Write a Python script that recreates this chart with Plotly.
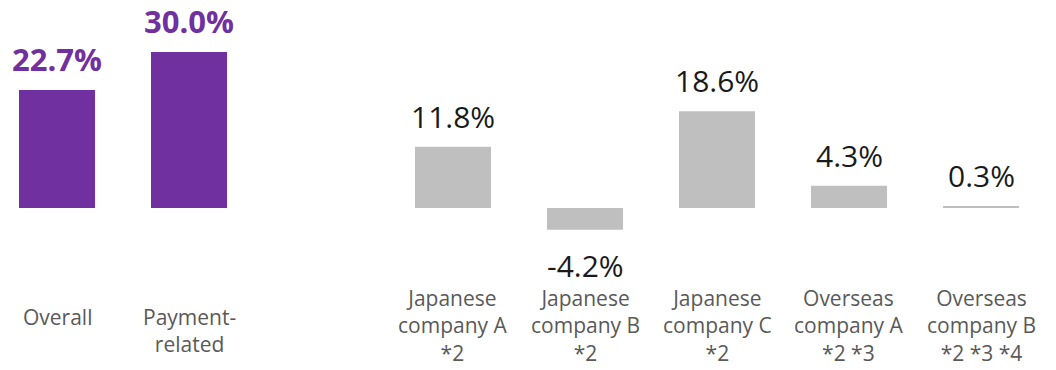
import plotly.graph_objects as go

# Data
categories = ["Overall", "Payment-<br>related",
              "Japanese<br>company A<br>*2", "Japanese<br>company B<br>*2",
              "Japanese<br>company C<br>*2", "Overseas<br>company A<br>*2 *3",
              "Overseas<br>company B<br>*2 *3 *4"]
positions = [0, 1, 3, 4, 5, 6, 7]
values = [22.7, 30.0, 11.8, -4.2, 18.6, 4.3, 0.3]
labels = ["22.7%", "30.0%", "11.8%", "-4.2%", "18.6%", "4.3%", "0.3%"]
highlight = [True, True, False, False, False, False, False]

PURPLE = "#7030A0"
GRAY = "#BFBFBF"
FONT = "Open Sans"

fig = go.Figure()
fig.add_trace(go.Bar(
    x=positions, y=values, width=0.576,
    marker=dict(color=[PURPLE if h else GRAY for h in highlight], line=dict(width=0)),
    hoverinfo="skip",
))

annotations = []
for x, v, t, h in zip(positions, values, labels, highlight):
    pos = v >= 0
    annotations.append(dict(
        x=x, y=v, xref="x", yref="y", text=("<b>%s</b>" % t) if h else t,
        showarrow=False, yanchor="bottom" if pos else "top",
        yshift=8 if pos else -13,
        font=dict(family=FONT, size=31 if h else 30, color=PURPLE if h else "#1a1a1a"),
    ))
for x, c, h in zip(positions, categories, highlight):
    annotations.append(dict(
        x=x, y=(208 - (302 if h else 283)) / 5.2, xref="x", yref="y", text=c,
        showarrow=False, yanchor="top", align="center", borderpad=0,
        font=dict(family=FONT, size=21, color="#595959"),
    ))

fig.update_layout(
    width=1056, height=370, margin=dict(l=0, r=0, t=0, b=0),
    paper_bgcolor="white", plot_bgcolor="white", showlegend=False,
    xaxis=dict(range=[-0.432, 7.568], visible=False, fixedrange=True),
    yaxis=dict(range=[(208 - 370) / 5.2, 208 / 5.2], visible=False, fixedrange=True),
    annotations=annotations,
)
fig.write_html("out.html")
